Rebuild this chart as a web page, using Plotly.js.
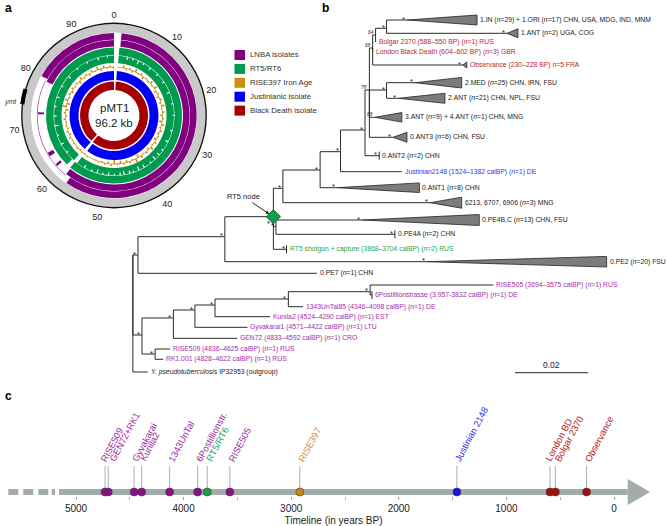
<!DOCTYPE html>
<html><head><meta charset="utf-8">
<script src="https://cdn.plot.ly/plotly-3.0.1.min.js"></script>
<style>html,body{margin:0;padding:0;background:#fff}#chart{width:667px;height:526px}</style>
</head><body><div id="chart"></div>
<script>
// ================= DATA =================
// ---- panel a : pMT1 coverage circle ----
const genomeKb = 96.2;
const ringTickKb = [0,10,20,30,40,50,60,70,80,90];
const ringNames  = ['LNBA isolates','RT5/RT6','RISE397 Iron Age','Justinianic isolate','Black Death isolate'];
const lnbaOuterCover = [[1.4,57.5],[79.8,96.2]];
const lnbaInnerCover = [[1.4,58.6],[79.3,96.2]];
const lnbaLowCover   = [[58.6,79.3]];
const lnbaPatches    = [[61.0,61.5],[63.5,64.3],[72.4,72.8]];
const rtOuterCover   = [[1.2,58.8],[59.8,96.2]];
const rtInnerCover   = [[1.2,58.2],[59.3,96.2]];
const rtDipKb    = [3.5,5,6.5,8,10,12.5,15,18,21,24,28,31,33.5,35,36.5,38,40,41.5,43,44,45.5,46.5,48,49.5,51,52.5,54,56,62,64.5,67,69.5,72,74.5,77,80,83,86,89,92,94.5];
const rtDipDepth = [3,2,4,2,3,2,2,3,2,1.5,2,3,2,3,4,2,3,4,2,3,4,3,2,3,2,4,2,3,2,3,2,4,3,2,3,2,3,2,2,3,2];
const rise397BinKb = 2;
const rise397Up   = [0,2.5,1.5,3,2,1,2.5,3,1.5,2,3,2,1.5,2.5,2,1,2,3,1.5,2.5,3.5,2,1.5,1,2,1.5,1,0,1,0.5,1.5,1,2,1.5,1,2,1.5,3.5,3,1.5,2,1,2.5,1.5,2,3,2.5,1.5];
const rise397Down = [0,1.5,2,1,2.5,1.5,1,2,2.5,1.5,1,2,3,1.5,2,2.5,1,2,1,3,1.5,2,2.5,4,2,1.5,1,0,1,1.5,0.5,1,2,1.5,1,1.5,2.5,3,1.5,2,1,2.5,1.5,2,1,2,1,1.5];
const justinianCover  = [[1.0,58.0],[59.1,96.2]];
const blackDeathCover = [[0.8,58.4],[59.3,96.2]];
const ymtKb = [74.0,76.6];

// ---- panel b : phylogeny (divergence in 0.001 subst./site, row = vertical slot) ----
const nodeId  = ['root','outgroup','n138','n225','PE7','PE2','rt5node','A','pe4','PE4BC','PE4A','RT5','B','m6213','J','ANT1','K','Justinian','M','ANT2','N3','N4','ANT34','ANT3','N2','London','Observance','N1','Bolgar','IN','ANT1_1','MED2','ANT2_2','L0','L509','RISE509','RK1','L1','GEN72','L2','Gyv','L3','Kunila2','L4','UnTal','L5','RISE505','Post'];
const nodeParent = [null,'root','root','n138','n138','n225','n225','rt5node','rt5node','pe4','pe4','rt5node','A','A','B','B','J','J','K','K','M','M','M','M','N3','N3','N3','N2','N2','N1','N1','N4','N4','root','L0','L509','L509','L0','L1','L1','L2','L2','L3','L3','L4','L4','L5','L5'];
const nodeDiv = [36.4,40.5,37.8,61.6,86.8,116.9,74.9,77.5,75.6,99.1,108.2,78.5,87.7,117.8,93.3,92.2,100.0,110.1,101.2,103.9,102.1,105.9,102.7,107.7,102.9,102.1,126.8,105.9,102.9,111.5,138.9,113.7,109.1,38.9,42.5,46.6,44.7,47.5,65.0,53.4,67.8,58.9,74.0,79.0,83.0,101.4,135.2,101.9];
const nodeRow = [255,372,255,236.7,273.3,261.7,216.7,188.3,226.7,220,234.3,249.3,170,202.7,151.7,187.7,130,171.7,90,155.7,48,90,117.3,137.3,35,52,65,28.3,42,20,33.3,82.7,98.3,335,354,349,359.3,318,338.3,310,327.3,305,316.7,299,306.7,291.7,285,295];
const nodeSupport = ['','','*','*','','*','*','*','*','*','*','*','*','*','*','*','*','','78','*','68','*','68','*','64','','*','*','','*','*','*','*','*','*','','','*','','*','','*','','*','','*','',''];
const cladeEndDiv = {PE2:166.2, PE4BC:131.3, m6213:126.5, ANT1:114.9, ANT34:110.1, ANT3:111.5, Observance:127.9, IN:130.7, ANT1_1:141.9, MED2:126.5, ANT2_2:121.9};
const tipTick = ['PE4A','RT5','ANT2','Post'];
const leafText = {
  IN:'1.IN (<i>n</i>=29) + 1.ORI (<i>n</i>=17) CHN, USA, MDG, IND, MNM',
  ANT1_1:'1.ANT (<i>n</i>=2) UGA, COG',
  Bolgar:'Bolgar 2370 (588–550 BP) (<i>n</i>=1) RUS',
  London:'London Black Death (604–602 BP) (<i>n</i>=3) GBR',
  Observance:'Observance (230–228 BP) <i>n</i>=5 FRA',
  MED2:'2.MED (<i>n</i>=25) CHN, IRN, FSU',
  ANT2_2:'2.ANT (<i>n</i>=21) CHN, NPL, FSU',
  ANT34:'3.ANT (<i>n</i>=9) + 4.ANT (<i>n</i>=1) CHN, MNG',
  ANT3:'0.ANT3 (<i>n</i>=6) CHN, FSU',
  ANT2:'0.ANT2 (<i>n</i>=2) CHN',
  Justinian:'Justinian2148 (1524–1382 calBP) (<i>n</i>=1) DE',
  ANT1:'0.ANT1 (<i>n</i>=8) CHN',
  m6213:'6213, 6707, 6906 (<i>n</i>=3) MNG',
  PE4BC:'0.PE4B,C (<i>n</i>=13) CHN, FSU',
  PE4A:'0.PE4A (<i>n</i>=2) CHN',
  RT5:'RT5 shotgun + capture (3868–3704 calBP) (<i>n</i>=2) RUS',
  PE2:'0.PE2 (<i>n</i>=20) FSU',
  PE7:'0.PE7 (<i>n</i>=1) CHN',
  RISE505:'RISE505 (3694–3575 calBP) (<i>n</i>=1) RUS',
  Post:'6Postillionstrasse (3,957-3832 calBP) (<i>n</i>=1) DE',
  UnTal:'1343UnTal85 (4346–4098 calBP) (<i>n</i>=1) DE',
  Kunila2:'Kunila2 (4524–4290 calBP) (<i>n</i>=1) EST',
  Gyv:'Gyvakarai1 (4571–4422 calBP) (<i>n</i>=1) LTU',
  GEN72:'GEN72 (4833–4592 calBP) (<i>n</i>=1) CRO',
  RISE509:'RISE509 (4836–4625 calBP) (<i>n</i>=1) RUS',
  RK1:'RK1.001 (4828–4622 calBP) (<i>n</i>=1) RUS',
  outgroup:'<i>Y. pseudotuberculosis</i> IP32953 (outgroup)'
};
const leafGroup = {Bolgar:'bd',London:'bd',Observance:'bd',Justinian:'just',RT5:'rt5',RISE505:'lnba',Post:'lnba',UnTal:'lnba',Kunila2:'lnba',Gyv:'lnba',GEN72:'lnba',RISE509:'lnba',RK1:'lnba'};
const scaleBarValue = 0.02;

// ---- panel c : timeline ----
const tlLabels = ['RISE509','GEN72+RK1','Gyvakarai','Kunila2','1343UnTal','6Postillionstr.','RT5/RT6','RISE505','RISE397','Justinian 2148','London BD','Bolgar 2370','Observance'];
const tlYearsBP = [4730,4700,4460,4390,4130,3870,3780,3570,2920,1460,595,545,255];
const tlGroup = ['lnba','lnba','lnba','lnba','lnba','lnba','rt5','lnba','iron','just','bd','bd','bd'];
const tlTicks = [5000,4000,3000,2000,1000,0];

// ================= STYLE =================
const FONT = 'Liberation Sans, Arial, Helvetica, sans-serif';
const ringColor = {lnba:'#800080', rt5:'#009a4e', iron:'#c8900e', just:'#0000f5', bd:'#a50000'};
const ringOrder = ['lnba','rt5','iron','just','bd'];
const treeText  = {lnba:'#a32ea6', rt5:'#2aa24e', just:'#3535f2', bd:'#b8282a', none:'#222'};
const tlDot  = {lnba:'#8b0f8b', rt5:'#17a04f', iron:'#d0870f', just:'#1515e6', bd:'#a30f0f'};
const tlText = {lnba:'#9a1f9a', rt5:'#20a552', iron:'#d88c1a', just:'#2a2ae6', bd:'#a51616'};
const tlLabelShift = [-3,3,0,0,0,0,0,0,0,0,-3,1,0];
const triHalf = {PE2:5.3, PE4BC:5.5, m6213:5.5, ANT1:4.8, ANT34:4.8, ANT3:5, Observance:3, IN:5, ANT1_1:4.5, MED2:5.3, ANT2_2:5};

const W = 667, H = 526;
const px = x => x / W, py = y => 1 - y / H;
const deg = kb => kb / genomeKb * 360;

const traces = [];
// ---------- panel a ----------
function ring(segs, base, thick, color) {
  traces.push({type:'barpolar', subplot:'polar',
    theta: segs.map(s => deg((s[0]+s[1])/2)), width: segs.map(s => deg(s[1]-s[0])),
    base: segs.map(() => base), r: segs.map(() => thick),
    marker:{color:color, line:{width:0}}, hoverinfo:'skip', showlegend:false});
}
ring([[0,48.1],[48.1,96.2]], 83, 8.5, '#c9c9c9');
ring([[0,48.1],[48.1,96.2]], 91.5, 1.4, '#111');
ring([ymtKb], 90.3, 4.2, '#000');
ring(lnbaOuterCover, 76, 6.6, ringColor.lnba);
ring(lnbaInnerCover, 69, 6.6, ringColor.lnba);
ring(lnbaLowCover, 76.4, 0.7, '#a040a0');
ring(lnbaPatches, 70, 6, ringColor.lnba);
ring(rtOuterCover, 60.5, 7.5, ringColor.rt5);
ring(rtInnerCover, 52.5, 7.5, ringColor.rt5);
traces.push({type:'barpolar', subplot:'polar',
  theta: rtDipKb.map(deg), width: rtDipKb.map(() => deg(0.3)),
  base: rtDipDepth.map(d => 60.2 - d), r: rtDipDepth.map(d => d),
  marker:{color:'#fff', line:{width:0}}, hoverinfo:'skip', showlegend:false});
// RISE397 coverage histogram
ring([[1.2,96.2]], 48.2, 0.7, ringColor.iron);
traces.push({type:'barpolar', subplot:'polar',
  theta: rise397Up.map((v,i) => deg((i+0.5)*rise397BinKb)), width: rise397Up.map(() => deg(0.5)),
  base: rise397Up.map(() => 48.6), r: rise397Up,
  marker:{color:ringColor.iron, line:{width:0}}, hoverinfo:'skip', showlegend:false});
traces.push({type:'barpolar', subplot:'polar',
  theta: rise397Down.map((v,i) => deg((i+1)*rise397BinKb)), width: rise397Down.map(() => deg(0.5)),
  base: rise397Down.map(v => 48.4 - v), r: rise397Down,
  marker:{color:ringColor.iron, line:{width:0}}, hoverinfo:'skip', showlegend:false});
ring(justinianCover, 35.5, 9, ringColor.just);
ring(blackDeathCover, 25.5, 8.5, ringColor.bd);

// ---------- panel b ----------
const N = {};
nodeId.forEach((id,i) => N[id] = {id, parent:nodeParent[i], div:nodeDiv[i], row:nodeRow[i], sup:nodeSupport[i]});
const br = {x:[], y:[]};
nodeId.forEach(id => { const n = N[id]; if (!n.parent) return; const p = N[n.parent];
  br.x.push(p.div, p.div, n.div, null); br.y.push(p.row, n.row, n.row, null); });
traces.push({type:'scatter', mode:'lines', x:br.x, y:br.y, xaxis:'x', yaxis:'y',
  line:{color:'#2a2a2a', width:1}, hoverinfo:'skip', showlegend:false});
const tri = {x:[], y:[]};
Object.keys(cladeEndDiv).forEach(id => { const n = N[id], e = cladeEndDiv[id], h = triHalf[id];
  tri.x.push(n.div, e, e, n.div, null); tri.y.push(n.row, n.row - h, n.row + h, n.row, null); });
traces.push({type:'scatter', mode:'lines', x:tri.x, y:tri.y, fill:'toself', fillcolor:'#7c7c7c',
  line:{color:'#222', width:0.8}, hoverinfo:'skip', showlegend:false});
const tk = {x:[], y:[]};
tipTick.forEach(id => { const n = N[id]; tk.x.push(n.div, n.div, null); tk.y.push(n.row - 4, n.row + 4, null); });
traces.push({type:'scatter', mode:'lines', x:tk.x, y:tk.y, line:{color:'#2a2a2a', width:1}, hoverinfo:'skip', showlegend:false});
// scale bar
const sbStart = 141.1;
traces.push({type:'scatter', mode:'lines', x:[sbStart, sbStart + scaleBarValue*1000], y:[372.7,372.7],
  line:{color:'#222', width:1}, hoverinfo:'skip', showlegend:false});
// RT5 node diamond
traces.push({type:'scatter', mode:'markers', x:[N.rt5node.div], y:[N.rt5node.row],
  marker:{symbol:'diamond', size:11, color:'#129a4c', line:{color:'#0a5a2a', width:0.8}}, hoverinfo:'skip', showlegend:false});

// ---------- panel c ----------
const barY = 4, barColor = '#a2aca9';
const dashes = [[5629,5536],[5490,5397],[5350,5257],[5226,5195]];
dashes.forEach(d => traces.push({type:'scatter', mode:'lines', x:d, y:[barY,barY], xaxis:'x2', yaxis:'y2',
  line:{color:barColor, width:6}, hoverinfo:'skip', showlegend:false}));
traces.push({type:'scatter', mode:'lines', x:[5158,-128], y:[barY,barY], xaxis:'x2', yaxis:'y2',
  line:{color:barColor, width:6}, hoverinfo:'skip', showlegend:false});
traces.push({type:'scatter', mode:'lines', x:[-128,-335,-128,-128], y:[barY+13,barY,barY-13,barY+13], xaxis:'x2', yaxis:'y2',
  fill:'toself', fillcolor:barColor, line:{color:barColor, width:0}, hoverinfo:'skip', showlegend:false});
const con = {x:[], y:[]};
tlYearsBP.forEach(v => { con.x.push(v, v, null); con.y.push(barY, 30, null); });
traces.push({type:'scatter', mode:'lines', x:con.x, y:con.y, xaxis:'x2', yaxis:'y2',
  line:{color:'#9a9a9a', width:0.8}, hoverinfo:'skip', showlegend:false});
traces.push({type:'scatter', mode:'markers', x:tlYearsBP, y:tlYearsBP.map(() => barY), xaxis:'x2', yaxis:'y2',
  marker:{size:8, color:tlGroup.map(g => tlDot[g]), line:{color:'#3a3a3a', width:0.6}}, hoverinfo:'skip', showlegend:false});

// ================= ANNOTATIONS =================
const ann = [];
const paperText = (text, x, y, size, color, xa, extra) => ann.push(Object.assign({text, xref:'paper', yref:'paper', x:px(x), y:py(y),
  xanchor:xa || 'center', yanchor:'middle', showarrow:false, font:{family:FONT, size, color}}, extra || {}));
// panel letters
paperText('<b>a</b>', 3, 8, 12, '#000', 'left');
paperText('<b>b</b>', 320, 8, 12, '#000', 'left');
paperText('<b>c</b>', 3, 396, 12, '#000', 'left');
// circle centre
paperText('pMT1', 114, 108, 11.5, '#222');
paperText('96.2 kb', 114, 123.5, 11.5, '#222');
paperText('<i>ymt</i>', 2, 102, 7, '#333', 'left');
// legend
const shapes = [];
ringOrder.forEach((g,i) => { const yc = 55 + i*13.9;
  shapes.push({type:'rect', xref:'paper', yref:'paper', x0:px(234.5), x1:px(245), y0:py(yc-5), y1:py(yc+5), fillcolor:ringColor[g], line:{width:0}});
  paperText(ringNames[i], 247.5, yc, 7.8, '#333', 'left');
});
// tree labels
Object.keys(leafText).forEach(id => { const n = N[id]; const grp = leafGroup[id] || 'none';
  const xEnd = cladeEndDiv[id] !== undefined ? cladeEndDiv[id] : n.div;
  ann.push({text:leafText[id], xref:'x', yref:'y', x:xEnd, y:n.row, xanchor:'left', yanchor:'middle', xshift:1, showarrow:false,
    font:{family:FONT, size:6.8, color:treeText[grp]}});
});
// support values
nodeId.forEach(id => { const n = N[id]; if (!n.sup) return;
  const star = n.sup === '*';
  const below = id === 'rt5node';
  ann.push({text: star ? '*' : '<i>'+n.sup+'</i>', xref:'x', yref:'y', x:n.div, y:n.row, xanchor:'right', yanchor:'middle',
    yshift: below ? -7 : (star ? 1 : 3), xshift: below ? -1 : 0, showarrow:false,
    font:{family:FONT, size: star ? 7.5 : 4.8, color:'#222'}});
});
ann.push({text:'RT5 node', xref:'x', yref:'y', x:N.rt5node.div, y:N.rt5node.row, ax:-30, ay:-20, showarrow:true,
  arrowhead:2, arrowsize:0.8, arrowwidth:0.9, arrowcolor:'#111', standoff:5, font:{family:FONT, size:7.5, color:'#222'}});
ann.push({text:String(scaleBarValue), xref:'x', yref:'y', x:sbStart + scaleBarValue*500, y:372.7, yanchor:'bottom', yshift:1,
  showarrow:false, font:{family:FONT, size:8.5, color:'#222'}});
// timeline labels
tlLabels.forEach((t,i) => ann.push({text:t, xref:'x2', yref:'y2', x:tlYearsBP[i], y:30, xanchor:'left', yanchor:'bottom',
  textangle:-62, xshift:-6 + tlLabelShift[i], showarrow:false, font:{family:FONT, size:9.3, color:tlText[tlGroup[i]]}}));

// ================= LAYOUT =================
const pr = 95, pcx = 114, pcy = 115.5;
const layout = {
  width:W, height:H, margin:{l:0,r:0,t:0,b:0}, paper_bgcolor:'#fff', plot_bgcolor:'rgba(0,0,0,0)', showlegend:false,
  font:{family:FONT},
  xaxis:{domain:[0,1], range:[0, W/3.65], visible:false, fixedrange:true},
  yaxis:{domain:[0,1], range:[H,0], visible:false, fixedrange:true},
  xaxis2:{domain:[0,1], range:[(614-0)/0.1076, (614-W)/0.1076], anchor:'free', position:py(496), showgrid:false, zeroline:false,
    showline:false, tickmode:'array', tickvals:tlTicks, ticktext:tlTicks.map(String), ticks:'outside', ticklen:3, tickcolor:'#a0a0a0',
    minor:{tickmode:'array', tickvals:[4500,3500,2500,1500,500], ticks:'outside', ticklen:3, tickcolor:'#b0b0b0', showgrid:false},
    tickfont:{family:FONT, size:10, color:'#222'},
    title:{text:'Timeline (in years BP)', font:{family:FONT, size:10, color:'#222'}, standoff:3}},
  yaxis2:{domain:[py(510), py(440)], range:[-14,56], visible:false, fixedrange:true},
  polar:{domain:{x:[px(pcx-pr), px(pcx+pr)], y:[py(pcy+pr), py(pcy-pr)]}, bgcolor:'rgba(0,0,0,0)', hole:0,
    radialaxis:{range:[0,pr], visible:false, showgrid:false},
    angularaxis:{rotation:90, direction:'clockwise', showgrid:false, showline:false, ticks:'',
      tickmode:'array', tickvals:ringTickKb.map(deg), ticktext:ringTickKb.map(String),
      tickfont:{family:FONT, size:9, color:'#222'}}},
  bargap:0, annotations:ann, shapes:shapes
};
Plotly.newPlot('chart', traces, layout, {staticPlot:true, displayModeBar:false});
</script></body></html>
